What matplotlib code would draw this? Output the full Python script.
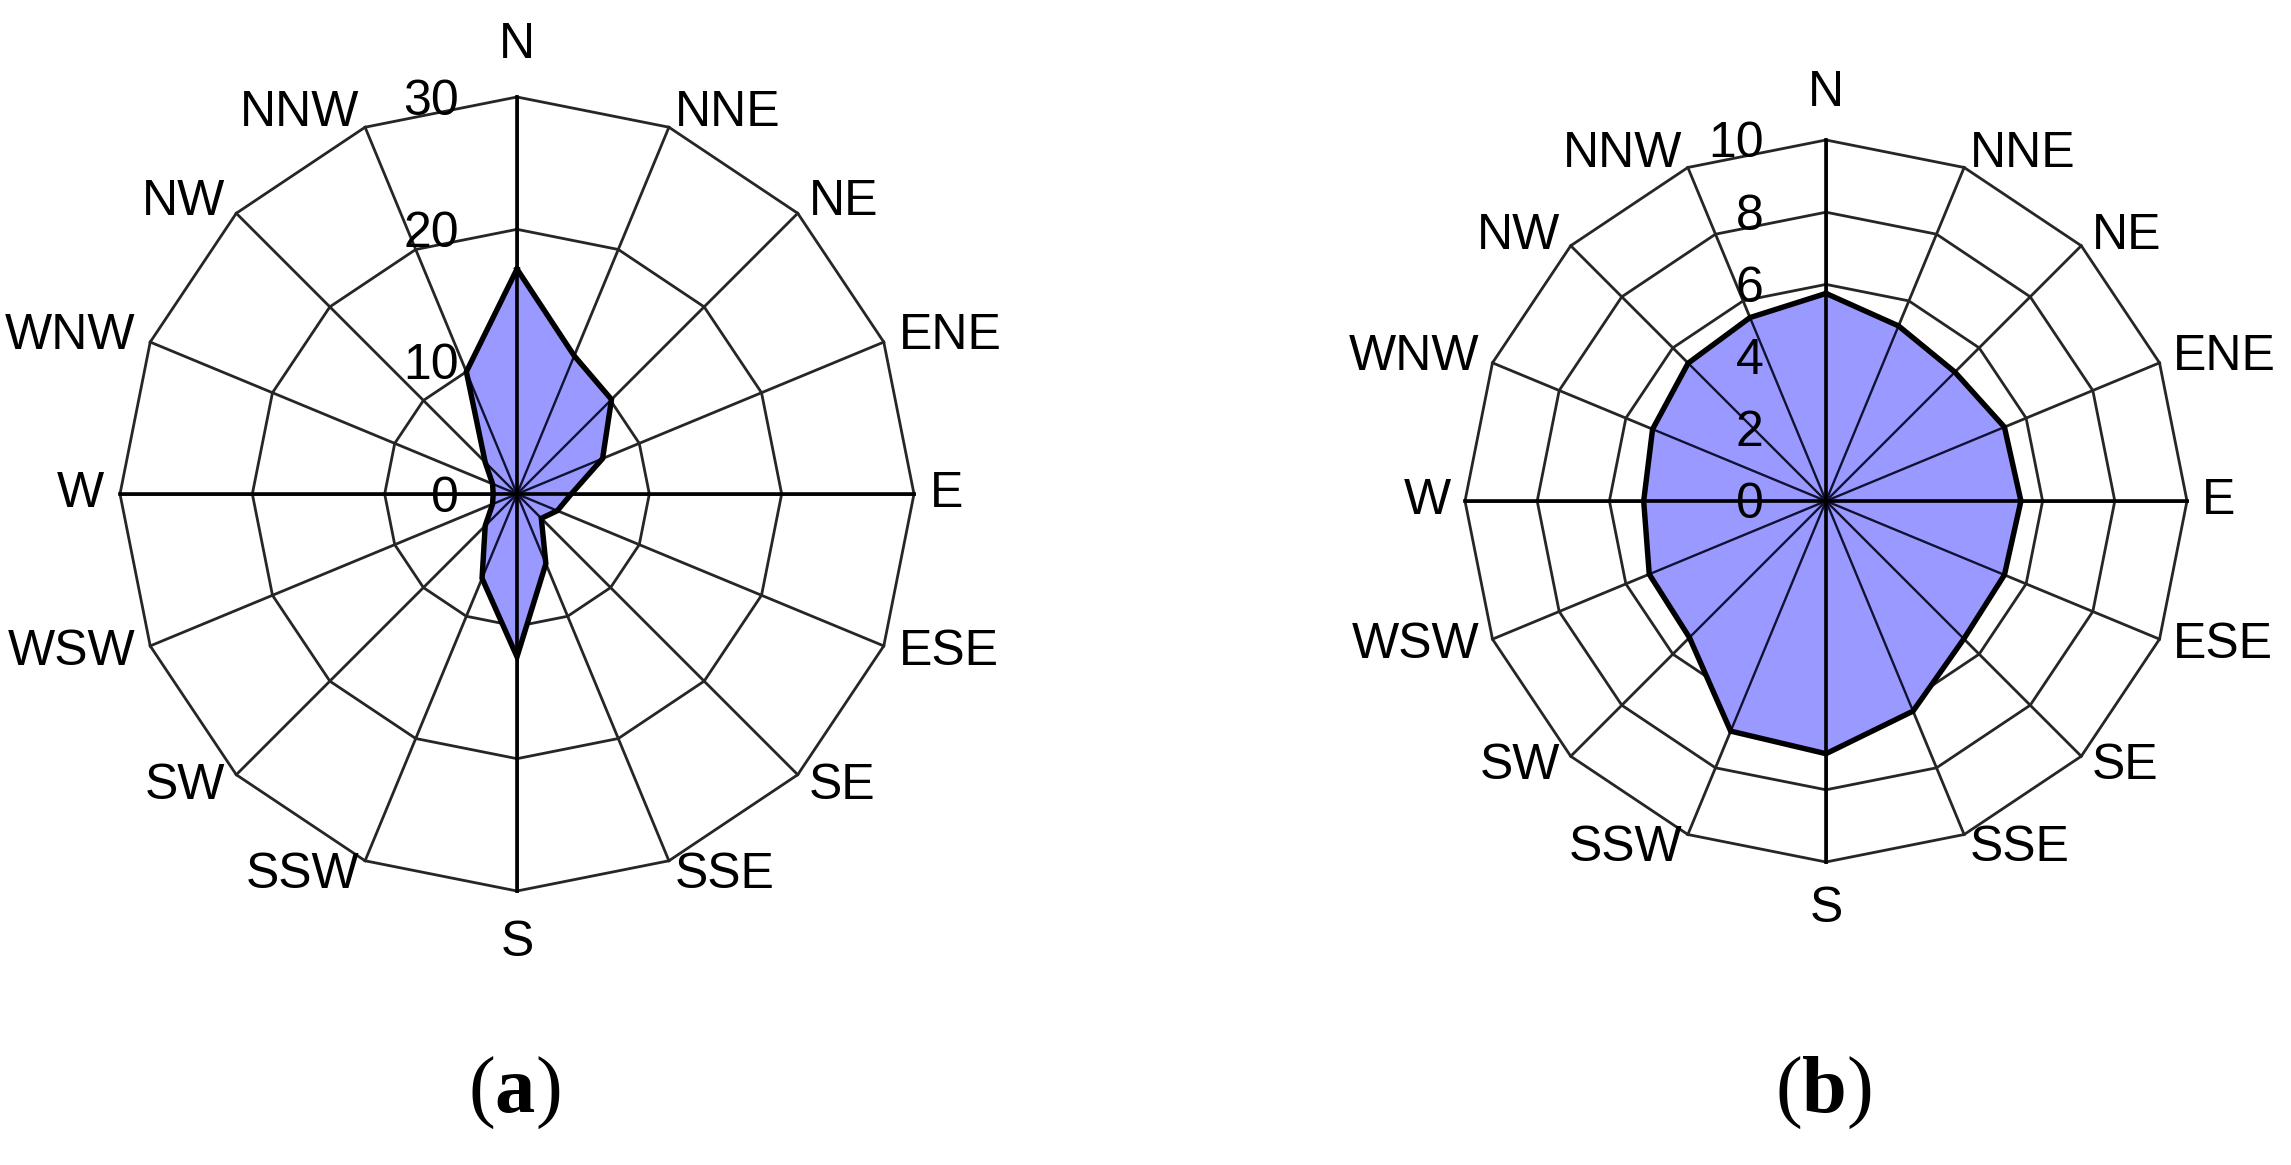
import numpy as np
import matplotlib
matplotlib.use('Agg')
import matplotlib.pyplot as plt

plt.rcParams['font.family'] = ['Liberation Sans', 'DejaVu Sans']
plt.rcParams['mathtext.fontset'] = 'custom'
plt.rcParams['mathtext.rm'] = 'Liberation Serif'
plt.rcParams['mathtext.bf'] = 'Liberation Serif:bold'

# wind directions, clockwise from north
directions = ['N', 'NNE', 'NE', 'ENE', 'E', 'ESE', 'SE', 'SSE',
              'S', 'SSW', 'SW', 'WSW', 'W', 'WNW', 'NW', 'NNW']

# (a) frequencies
values_a = [17.0, 11.3, 10.1, 7.0, 4.1, 3.3, 2.6, 5.7,
            12.3, 6.9, 3.4, 2.0, 1.8, 2.0, 3.4, 10.0]
ticks_a = [0, 10, 20, 30]

# (b) frequencies
values_b = [5.75, 5.25, 5.05, 5.35, 5.4, 5.35, 5.4, 6.3,
            7.0, 6.9, 5.35, 5.3, 5.05, 5.2, 5.4, 5.5]
ticks_b = [0, 2, 4, 6, 8, 10]

captions = ['a', 'b']

W, H = 2291, 1165
fig = plt.figure(figsize=(W / 100, H / 100), dpi=100)
fig.patch.set_facecolor('white')

theta = np.deg2rad(np.arange(16) * 22.5)
grid_col = '#262626'
fill_col = '#9999ff'


def rose(box, cx, cy, scale, values, ticks, label_dx):
    # box = (left, top, right, bottom) in pixels, cx/cy pixel centre, scale px per unit
    l, t, r, b = box
    ax = fig.add_axes([l / W, 1 - b / H, (r - l) / W, (b - t) / H])
    ax.set_xlim((l - cx) / scale, (r - cx) / scale)
    ax.set_ylim(-(b - cy) / scale, (cy - t) / scale)
    ax.axis('off')

    R = ticks[-1]
    sx, cy_ = np.sin(theta), np.cos(theta)

    # polygon rings
    for v in ticks[1:]:
        ax.plot(np.append(v * sx, v * sx[0]), np.append(v * cy_, v * cy_[0]),
                color=grid_col, lw=2.0, zorder=1, solid_joinstyle='miter')
    # spokes
    for i in range(16):
        ax.plot([0, R * sx[i]], [0, R * cy_[i]], color=grid_col, lw=2.0, zorder=1)

    vals = np.array(values)
    px, py = vals * sx, vals * cy_
    ax.fill(px, py, facecolor=fill_col, edgecolor='none', zorder=2)
    ax.plot(np.append(px, px[0]), np.append(py, py[0]), color='black', lw=3.9,
            zorder=4, solid_joinstyle='miter')
    for i in range(16):
        ax.plot([0, px[i]], [0, py[i]], color='#111133', lw=1.7, zorder=3)

    # main axes
    ax.plot([0, 0], [-R, R], color='black', lw=2.6, zorder=5)
    ax.plot([-R, R], [0, 0], color='black', lw=2.6, zorder=5)

    # radial tick labels
    for v in ticks:
        ax.text(-label_dx, v - 0.012 * R, str(v), ha='right', va='center',
                fontsize=36, zorder=6)

    # direction labels
    for i, d in enumerate(directions):
        if i == 0 or i == 8:
            rr = 1.13 * R
            ha = 'center'
        else:
            rr = 1.04 * R
            ha = 'left' if sx[i] > 0 else 'right'
        ax.text(rr * sx[i], rr * cy_[i], d, ha=ha, va='center', fontsize=36, zorder=6)
    return ax


rose((0, 0, 1100, 1000), 517, 494, 397 / 30, values_a, ticks_a, 4.4)
rose((1150, 0, 2291, 1000), 1826, 501, 361 / 10, values_b, ticks_b, 1.73)

for x, c in zip([514, 1823], captions):
    fig.text(x / W, 1 - 1093 / H, '(' + r'$\mathbf{' + c + '}$' + ')',
             family='Liberation Serif', fontsize=58, ha='center', va='center')

fig.savefig('out.png', dpi=100, facecolor='white')
